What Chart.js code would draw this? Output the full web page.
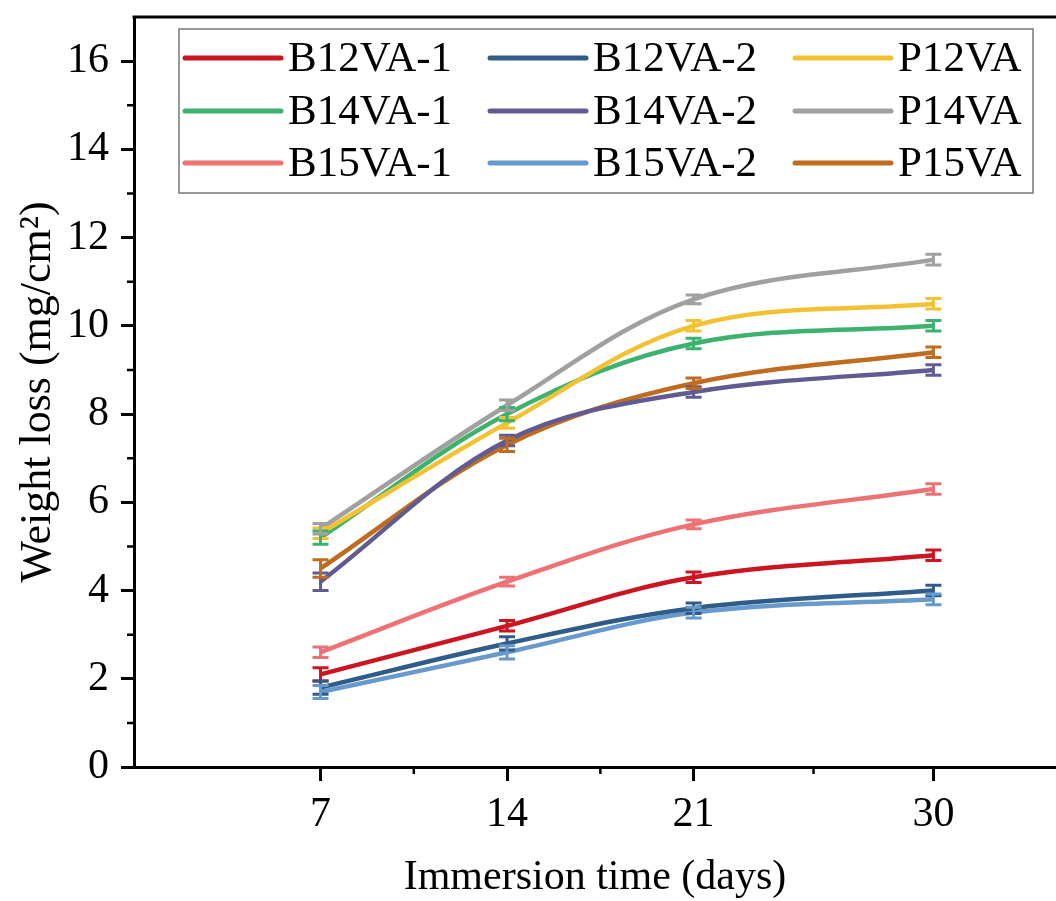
<!DOCTYPE html>
<html>
<head>
<meta charset="utf-8">
<script src="https://cdn.jsdelivr.net/npm/chart.js@4.4.1/dist/chart.umd.min.js"></script>
<style>
  html, body { margin: 0; padding: 0; background: #fff; }
  canvas { display: block; }
</style>
</head>
<body>
<canvas id="chart" width="1056" height="901"></canvas>
<script>
// immersion days
const days = [7, 14, 21, 30];

// weight loss (mg/cm2)
const b12va1 = [2.1, 3.2, 4.3, 4.8];
const b12va2 = [1.8, 2.8, 3.6, 4.0];
const p12va = [5.3, 7.8, 10.0, 10.5];
const b14va1 = [5.2, 8.0, 9.6, 10.0];
const b14va2 = [4.2, 7.4, 8.5, 9.0];
const p14va = [5.4, 8.2, 10.6, 11.5];
const b15va1 = [2.6, 4.2, 5.5, 6.3];
const b15va2 = [1.7, 2.6, 3.5, 3.8];
const p15va = [4.5, 7.3, 8.7, 9.4];

// error bar half widths
const b12va1Err = [0.15, 0.12, 0.12, 0.12];
const b12va2Err = [0.15, 0.15, 0.12, 0.12];
const p12vaErr = [0.12, 0.12, 0.12, 0.12];
const b14va1Err = [0.15, 0.15, 0.12, 0.12];
const b14va2Err = [0.2, 0.12, 0.12, 0.12];
const p14vaErr = [0.12, 0.12, 0.1, 0.12];
const b15va1Err = [0.12, 0.1, 0.1, 0.12];
const b15va2Err = [0.15, 0.15, 0.12, 0.12];
const p15vaErr = [0.2, 0.15, 0.12, 0.12];

const xTicks = [7, 14, 21, 30];
const xMinorTicks = [10.5, 17.5, 25.5];
const yTicks = [0, 2, 4, 6, 8, 10, 12, 14, 16];
const yMinorTicks = [1, 3, 5, 7, 9, 11, 13, 15];

const FONT = '"Liberation Serif", "Times New Roman", serif';

const series = [
    { label: 'B12VA-1', values: b12va1, err: b12va1Err, color: '#CC1520' },
    { label: 'B12VA-2', values: b12va2, err: b12va2Err, color: '#2F5C88' },
    { label: 'P12VA', values: p12va, err: p12vaErr, color: '#F2C232' },
    { label: 'B14VA-1', values: b14va1, err: b14va1Err, color: '#3DB26E' },
    { label: 'B14VA-2', values: b14va2, err: b14va2Err, color: '#605C92' },
    { label: 'P14VA', values: p14va, err: p14vaErr, color: '#A0A0A0' },
    { label: 'B15VA-1', values: b15va1, err: b15va1Err, color: '#EE7174' },
    { label: 'B15VA-2', values: b15va2, err: b15va2Err, color: '#6699CC' },
    { label: 'P15VA', values: p15va, err: p15vaErr, color: '#BF6C1E' }
];

const datasets = series.map(s => ({
    label: s.label,
    data: s.values.map((v, i) => ({ x: days[i], y: v })),
    errors: s.err,
    borderColor: s.color,
    backgroundColor: s.color,
    borderWidth: 4.5,
    pointRadius: 0,
    tension: 0.35,
    fill: false
}));

// error bars, minor ticks, top frame line and the in-plot legend
const extras = {
    id: 'extras',
    afterDatasetsDraw(chart) {
        const ctx = chart.ctx;
        const xs = chart.scales.x, ys = chart.scales.y;
        ctx.save();
        chart.data.datasets.forEach(ds => {
            ctx.strokeStyle = ds.borderColor;
            ctx.lineWidth = 3;
            ds.data.forEach((p, i) => {
                const e = ds.errors[i];
                const px = xs.getPixelForValue(p.x);
                const top = ys.getPixelForValue(p.y + e);
                const bot = ys.getPixelForValue(p.y - e);
                ctx.beginPath();
                ctx.moveTo(px, top); ctx.lineTo(px, bot);
                ctx.moveTo(px - 8, top); ctx.lineTo(px + 8, top);
                ctx.moveTo(px - 8, bot); ctx.lineTo(px + 8, bot);
                ctx.stroke();
            });
        });
        ctx.restore();
    },
    afterDraw(chart) {
        const ctx = chart.ctx;
        const area = chart.chartArea;
        const xs = chart.scales.x, ys = chart.scales.y;
        ctx.save();
        ctx.strokeStyle = '#000';
        ctx.lineWidth = 3;
        ctx.beginPath();
        ctx.moveTo(area.left - 1.5, area.top);
        ctx.lineTo(area.right, area.top);
        ctx.stroke();

        ctx.lineWidth = 2.5;
        ctx.beginPath();
        xMinorTicks.forEach(v => {
            const px = xs.getPixelForValue(v);
            ctx.moveTo(px, area.bottom); ctx.lineTo(px, area.bottom + 7);
        });
        yMinorTicks.forEach(v => {
            const py = ys.getPixelForValue(v);
            ctx.moveTo(area.left, py); ctx.lineTo(area.left - 7, py);
        });
        ctx.stroke();

        // legend box
        ctx.strokeStyle = '#777';
        ctx.lineWidth = 1.5;
        ctx.strokeRect(179, 29, 854, 164);
        const colX = [183, 488, 793];
        const rowY = [58, 111, 163];
        ctx.font = '43px ' + FONT;
        ctx.textBaseline = 'middle';
        ctx.textAlign = 'left';
        ctx.lineCap = 'round';
        chart.data.datasets.forEach((ds, i) => {
            const cx = colX[i % 3], cy = rowY[Math.floor(i / 3)];
            ctx.strokeStyle = ds.borderColor;
            ctx.lineWidth = 5;
            ctx.beginPath();
            ctx.moveTo(cx + 2, cy); ctx.lineTo(cx + 98, cy);
            ctx.stroke();
            ctx.fillStyle = '#000';
            ctx.fillText(ds.label, cx + 105, cy + 2);
        });
        ctx.restore();
    }
};

new Chart(document.getElementById('chart').getContext('2d'), {
    type: 'line',
    data: { datasets },
    options: {
        responsive: false,
        animation: false,
        layout: { padding: { top: 17, right: 0, left: 0, bottom: 0 } },
        plugins: {
            legend: { display: false },
            tooltip: { enabled: false }
        },
        scales: {
            x: {
                type: 'linear',
                min: 0,
                max: 34.6,
                afterBuildTicks: s => { s.ticks = xTicks.map(v => ({ value: v })); },
                afterFit: s => { s.height = 134; s.paddingLeft = 0; s.paddingRight = 0; },
                ticks: { color: '#000', font: { family: FONT, size: 42 }, padding: 9, maxRotation: 0 },
                grid: { drawOnChartArea: false, tickLength: 14, tickWidth: 3, tickColor: '#000' },
                border: { color: '#000', width: 3 },
                title: {
                    display: true,
                    text: 'Immersion time (days)',
                    color: '#000',
                    font: { family: FONT, size: 42, lineHeight: 1.1 },
                    padding: 0
                }
            },
            y: {
                min: 0,
                max: 17,
                afterBuildTicks: s => { s.ticks = yTicks.map(v => ({ value: v })); },
                afterFit: s => { s.width = 134; s.paddingTop = 0; s.paddingBottom = 0; },
                ticks: { color: '#000', font: { family: FONT, size: 42 }, padding: 12 },
                grid: { drawOnChartArea: false, tickLength: 13, tickWidth: 3, tickColor: '#000' },
                border: { color: '#000', width: 3 },
                title: {
                    display: true,
                    text: 'Weight loss (mg/cm²)',
                    color: '#000',
                    font: { family: FONT, size: 44, lineHeight: 1.2 },
                    padding: { top: 12, bottom: 0 }
                }
            }
        }
    },
    plugins: [extras]
});
</script>
</body>
</html>
